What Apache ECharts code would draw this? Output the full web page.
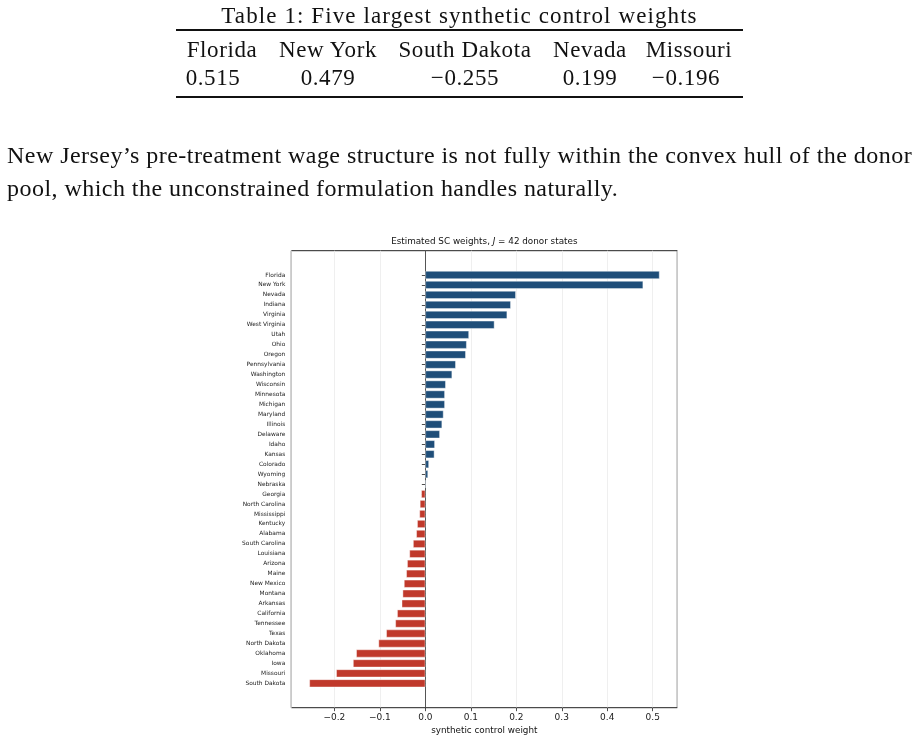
<!DOCTYPE html>
<html>

<head>
    <meta charset="UTF-8" />
    <title>SC weights</title>
    <script src="https://cdn.jsdelivr.net/npm/echarts@6/dist/echarts.min.js"></script>
    <style>
        body { margin: 0; background: #fff; }
        #page { position: relative; width: 919px; height: 742px; overflow: hidden; }
        #chart { position: absolute; left: 0; top: 0; width: 919px; height: 742px; }
        .tx { position: absolute; font-family: "Liberation Serif", serif; color: #111; white-space: nowrap; line-height: 1; }
        .rule { position: absolute; left: 176px; width: 567px; height: 2px; background: #111; }
    </style>
</head>

<body>
    <div id="page">
        <div id="chart"></div>
        <div class="tx" id="tableTitle" style="left:0;width:919px;text-align:center;top:4px;font-size:23px;letter-spacing:1.1px;">Table 1: Five largest synthetic control weights</div>
        <div class="rule" style="top:29px;"></div>
        <div class="rule" style="top:96px;"></div>
        <div class="tx" id="para1" style="left:7px;top:143px;font-size:24px;letter-spacing:0.46px;">New Jersey’s pre-treatment wage structure is not fully within the convex hull of the donor</div>
        <div class="tx" id="para2" style="left:7px;top:176px;font-size:24px;letter-spacing:0.46px;">pool, which the unconstrained formulation handles naturally.</div>
    </div>

    <script type="text/javascript">
        // table values
        const tableStates = ["Florida", "New York", "South Dakota", "Nevada", "Missouri"];
        const tableWeights = [0.515, 0.479, -0.255, 0.199, -0.196];

        // bar chart values, top to bottom
        const states = [
            "Florida", "New York", "Nevada", "Indiana", "Virginia", "West Virginia", "Utah", "Ohio",
            "Oregon", "Pennsylvania", "Washington", "Wisconsin", "Minnesota", "Michigan", "Maryland",
            "Illinois", "Delaware", "Idaho", "Kansas", "Colorado", "Wyoming", "Nebraska", "Georgia",
            "North Carolina", "Mississippi", "Kentucky", "Alabama", "South Carolina", "Louisiana",
            "Arizona", "Maine", "New Mexico", "Montana", "Arkansas", "California", "Tennessee",
            "Texas", "North Dakota", "Oklahoma", "Iowa", "Missouri", "South Dakota"
        ];
        const weights = [
            0.515, 0.479, 0.199, 0.188, 0.180, 0.152, 0.096, 0.091,
            0.089, 0.067, 0.059, 0.045, 0.043, 0.043, 0.040,
            0.037, 0.032, 0.021, 0.020, 0.008, 0.006, 0.002, -0.009,
            -0.012, -0.013, -0.018, -0.020, -0.027, -0.035,
            -0.040, -0.042, -0.047, -0.050, -0.052, -0.062, -0.066,
            -0.086, -0.103, -0.152, -0.159, -0.196, -0.255
        ];

        const fmtNum = v => (v < 0 ? '\u2212' : '') + Math.abs(v).toFixed(3);

        // table cells (centres measured on the page)
        const headCentres = [222, 328, 465, 590, 689];
        const valCentres = [213, 328, 465, 590, 686];
        let page = document.getElementById('page');
        tableStates.forEach((s, i) => {
            let h = document.createElement('div');
            h.className = 'tx';
            h.style.cssText = 'font-size:23px;letter-spacing:0.6px;top:38px;width:200px;text-align:center;left:' + (headCentres[i] - 100) + 'px';
            h.textContent = s;
            page.appendChild(h);
            let v = document.createElement('div');
            v.className = 'tx';
            v.style.cssText = 'font-size:23px;letter-spacing:0.6px;top:66px;width:200px;text-align:center;left:' + (valCentres[i] - 100) + 'px';
            v.textContent = fmtNum(tableWeights[i]);
            page.appendChild(v);
        });

        const blue = '#1f4e79';
        const red = '#c0392b';
        const font = 'DejaVu Sans';
        const xMin = -0.2947, xMax = 0.554;

        let chart = echarts.init(document.getElementById('chart'), null, { renderer: 'canvas' });
        let option = {
            animation: false,
            textStyle: { fontFamily: font },
            graphic: [{
                type: 'text',
                x: 484.3,
                y: 241.5,
                style: {
                    text: '{a|Estimated SC weights, }{i|J}{a| = 42 donor states}',
                    textAlign: 'center',
                    textVerticalAlign: 'middle',
                    rich: {
                        a: { fontSize: 8.8, fontFamily: font, fill: '#111' },
                        i: { fontSize: 8.8, fontFamily: font, fontStyle: 'italic', fill: '#111' }
                    }
                }
            }],
            grid: [
                // frame grid
                { left: 291.3, top: 250.7, width: 386, height: 457, show: true, borderColor: '#222', borderWidth: 1, backgroundColor: 'transparent' },
                // category grid
                { left: 291.3, top: 270.0, width: 386, height: 418.3 }
            ],
            xAxis: [
                {
                    gridIndex: 0, type: 'value', min: xMin, max: xMax,
                    minInterval: 0.1, maxInterval: 0.1,
                    axisLine: { show: false },
                    axisTick: { show: true, length: 3.5, lineStyle: { color: '#222', width: 0.8 } },
                    axisLabel: {
                        fontSize: 9, color: '#222', margin: 5, fontFamily: font,
                        showMinLabel: false, showMaxLabel: false,
                        formatter: v => Math.abs(v * 10 - Math.round(v * 10)) > 1e-6 ? '' : (v < -1e-9 ? '\u2212' : '') + Math.abs(v).toFixed(1)
                    },
                    splitLine: { show: true, lineStyle: { color: '#ebebeb', width: 0.8 } },
                    name: 'synthetic control weight',
                    nameLocation: 'middle',
                    nameGap: 17,
                    nameTextStyle: { fontSize: 8.8, color: '#111', fontFamily: font }
                },
                { gridIndex: 1, type: 'value', min: xMin, max: xMax, show: false }
            ],
            yAxis: [
                {
                    gridIndex: 0, type: 'value', min: 0, max: 1,
                    axisLine: { show: true, onZero: true, lineStyle: { color: '#444', width: 0.9 } },
                    axisTick: { show: false }, axisLabel: { show: false }, splitLine: { show: false }
                },
                {
                    gridIndex: 1, type: 'category', data: states, inverse: true,
                    axisLine: { show: false },
                    axisTick: { show: true, alignWithLabel: true, length: 3.5, lineStyle: { color: '#222', width: 0.8 } },
                    axisLabel: { fontSize: 5.9, color: '#222', margin: 6, fontFamily: font, interval: 0 }
                }
            ],
            series: [{
                type: 'bar',
                xAxisIndex: 1,
                yAxisIndex: 1,
                barWidth: '80%',
                data: weights.map(v => ({
                    value: v,
                    itemStyle: { color: v >= 0 ? blue : red }
                })),
                itemStyle: { borderColor: 'rgba(255,255,255,0.7)', borderWidth: 0.6 }
            }]
        };
        chart.setOption(option);
    </script>
</body>

</html>
